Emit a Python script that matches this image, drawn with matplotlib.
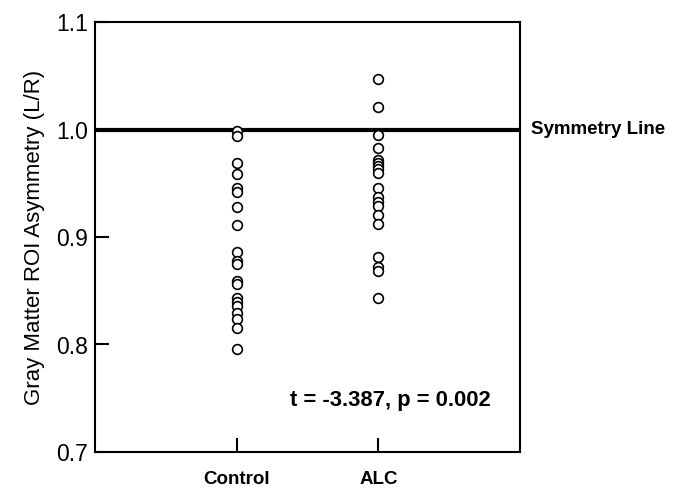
import matplotlib
matplotlib.use("Agg")
import matplotlib.pyplot as plt
import matplotlib.transforms as mtransforms

plt.rcParams['font.family'] = ['Liberation Sans', 'DejaVu Sans']

groups = ["Control", "ALC"]
control = [0.999, 0.994, 0.969, 0.959, 0.946, 0.942, 0.928, 0.911, 0.886,
           0.878, 0.875, 0.859, 0.856, 0.843, 0.840, 0.836, 0.829, 0.824,
           0.815, 0.796]
alc = [1.047, 1.021, 0.995, 0.983, 0.972, 0.969, 0.966, 0.963, 0.960,
       0.946, 0.937, 0.933, 0.929, 0.920, 0.912, 0.881, 0.872, 0.868, 0.843]
yticks = [0.7, 0.8, 0.9, 1.0, 1.1]
stat_text = "t = -3.387, p = 0.002"

fig = plt.figure(figsize=(6.76, 4.93), dpi=100)
ax = fig.add_axes([95/676, 1-452/493, (520-95)/676, (452-22)/493])

for i, vals in enumerate([control, alc]):
    ax.plot([i + 1] * len(vals), vals, linestyle='none', marker='o',
            markersize=7, markerfacecolor='white', markeredgecolor='black',
            markeredgewidth=1.2, zorder=3)

ax.axhline(1.0, color='black', linewidth=3, zorder=2)

ax.set_xlim(0, 3)
ax.set_ylim(0.7, 1.1)
ax.set_yticks(yticks)
ax.set_yticklabels([f"{v:.1f}" for v in yticks], fontsize=16.5)
ax.set_xticks([1, 2])
ax.set_xticklabels(groups, fontsize=13.5, fontweight='bold')
ax.tick_params(axis='both', direction='in', length=10, width=1.5)
ax.tick_params(axis='x', pad=14)
ax.tick_params(axis='y', pad=5)
for s in ax.spines.values():
    s.set_linewidth(1.5)

ax.set_ylabel("Gray Matter ROI Asymmetry (L/R)", fontsize=16, labelpad=8)

ax.text(2.79, 0.748, stat_text, fontsize=15.8, fontweight='bold',
        ha='right', va='center')

trans = mtransforms.blended_transform_factory(ax.transAxes, ax.transData)
ax.text(1.025, 1.0, "Symmetry Line", transform=trans, fontsize=13.5,
        fontweight='bold', ha='left', va='center')

fig.savefig("out.png", dpi=100)
